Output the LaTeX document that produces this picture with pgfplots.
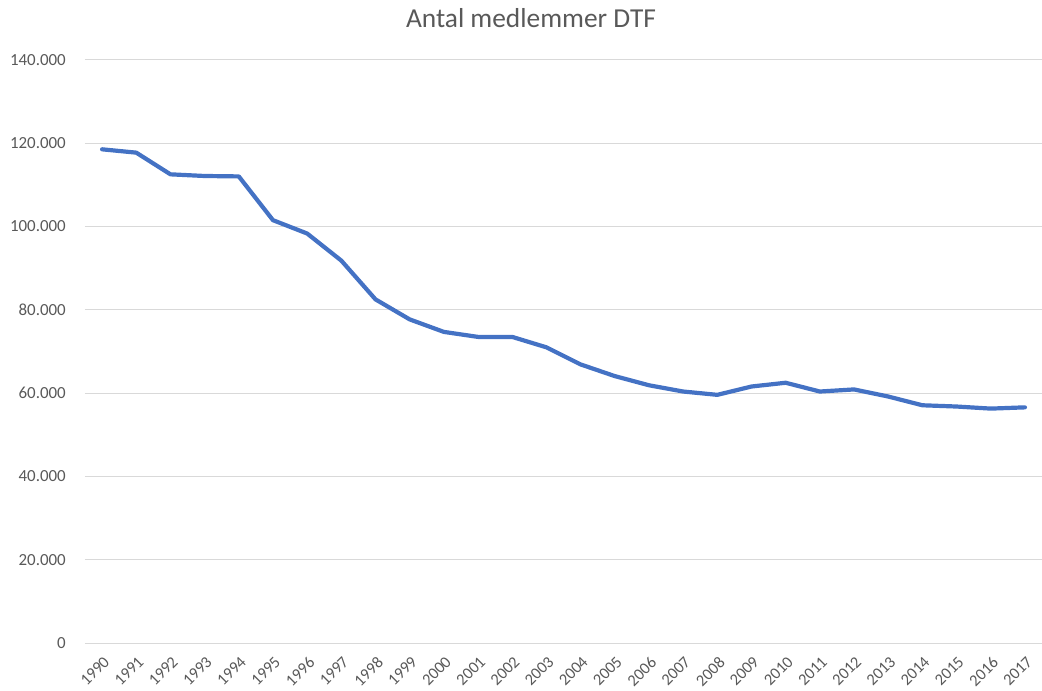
\documentclass[border=0pt]{standalone}
\usepackage{pgfplots}
\pgfplotsset{compat=1.18}
\usepackage{fontspec}
\setmainfont{Carlito}
\definecolor{txt}{HTML}{595959}
\definecolor{grd}{HTML}{D9D9D9}
\definecolor{ln}{HTML}{4472C4}
\begin{document}
\begin{tikzpicture}
\begin{axis}[
  at={(0,0)}, anchor=south west,
  scale only axis, width=957bp, height=583.6bp,
  xmin=1989.5, xmax=2017.5, ymin=0, ymax=140000,
  xtick={1990,1991,...,2017},
  ytick={0,20000,...,140000},
  yticklabels={0,20.000,40.000,60.000,80.000,100.000,120.000,140.000},
  scaled y ticks=false,
  /pgf/number format/assume math mode=true,
  /pgf/number format/1000 sep={},
  axis line style={draw=none},
  major tick length=0pt,
  ymajorgrids, grid style={grd, line width=1bp},
  tick label style={text=txt, font=\fontsize{17}{20}\selectfont},
  yticklabel style={inner sep=0pt, xshift=-19bp},
  xticklabel style={rotate=45, anchor=north east, inner sep=0pt, xshift=-8bp, yshift=-9bp, font=\fontsize{16.5}{19}\selectfont},
  clip=false,
]
\addplot[ln, line width=4.2bp, line join=round, line cap=round] coordinates {
(1990,118500) (1991,117700) (1992,112500) (1993,112100) (1994,112000)
(1995,101500) (1996,98300) (1997,91800) (1998,82500) (1999,77700)
(2000,74700) (2001,73500) (2002,73500) (2003,71000) (2004,66900)
(2005,64100) (2006,61900) (2007,60400) (2008,59600) (2009,61600)
(2010,62500) (2011,60400) (2012,60900) (2013,59200) (2014,57100)
(2015,56800) (2016,56300) (2017,56600)
};
\end{axis}
\node[font=\fontsize{27.5}{32}\selectfont, text=txt] at (446bp,625bp) {Antal medlemmer DTF};
\pgfresetboundingbox
\path (-85bp,-47.7bp) rectangle (957bp,643.3bp);
\end{tikzpicture}
\end{document}
